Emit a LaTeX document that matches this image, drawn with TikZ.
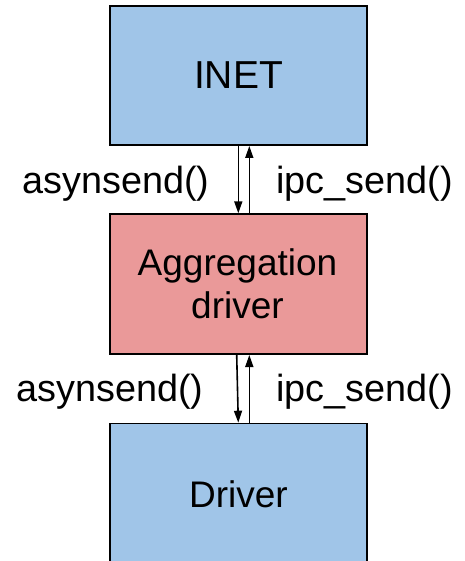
\documentclass[tikz,border=0pt]{standalone}
\usepackage{fontspec}
\setmainfont{Liberation Sans}
\usetikzlibrary{arrows.meta}
\definecolor{boxblue}{RGB}{160,197,232}
\definecolor{boxred}{RGB}{234,153,153}
\tikzset{
  layer/.style={draw=black, line width=1.7pt, minimum width=256.7pt, inner sep=0pt},
  bigtxt/.style={font=\fontsize{39}{44}\selectfont, inner sep=0pt, anchor=base},
  txt/.style={font=\fontsize{37}{42.3}\selectfont, inner sep=0pt, anchor=base},
  calltxt/.style={font=\fontsize{37.8}{42.3}\selectfont, inner sep=0pt},
  call/.style={line width=1.6pt, -{Triangle[length=12pt,width=8pt]}}
}
\begin{document}
\begin{tikzpicture}[x=1pt, y=-1pt]
  \clip (0,0) rectangle (464,561);
  % layer boxes
  \node[layer, fill=boxblue, minimum height=139.3pt, anchor=north] (inet) at (238.3,5) {};
  \node[layer, fill=boxred, minimum height=140pt, anchor=north] (agg) at (238.3,213.3) {};
  \node[layer, fill=boxblue, minimum height=220pt, anchor=north] (drv) at (238.3,422.7) {};
  % box texts
  \node[bigtxt] (inettxt) at (238.5,88.9) {INET};
  \node[txt] (aggtxt1) at (237.5,275.9) {Aggregation};
  \node[txt] (aggtxt2) at (237.5,318.2) {driver};
  \node[txt] (drvtxt) at (238.5,507) {Driver};
  % calls between INET and the aggregation driver
  \coordinate (a1) at ([xshift=11pt]agg.north);
  \coordinate (i1) at ([xshift=11pt]inet.south);
  \draw[call] (inet.south) -- (agg.north);
  \draw[call] (a1) -- (i1);
  \node[calltxt, anchor=base east] (up1) at (209.5,193.5) {asynsend()};
  \node[calltxt, anchor=base west] (up2) at (276,193.5) {ipc\_send()};
  % calls between the aggregation driver and the driver
  \coordinate (a2) at ([xshift=-1.6pt]agg.south);
  \coordinate (a3) at ([xshift=11pt]agg.south);
  \coordinate (d1) at ([xshift=11pt]drv.north);
  \draw[call] (a2) -- (drv.north);
  \draw[call] (d1) -- (a3);
  \node[calltxt, anchor=base east] (lo1) at (203.5,401.3) {asynsend()};
  \node[calltxt, anchor=base west] (lo2) at (276,401.3) {ipc\_send()};
\end{tikzpicture}
\end{document}
